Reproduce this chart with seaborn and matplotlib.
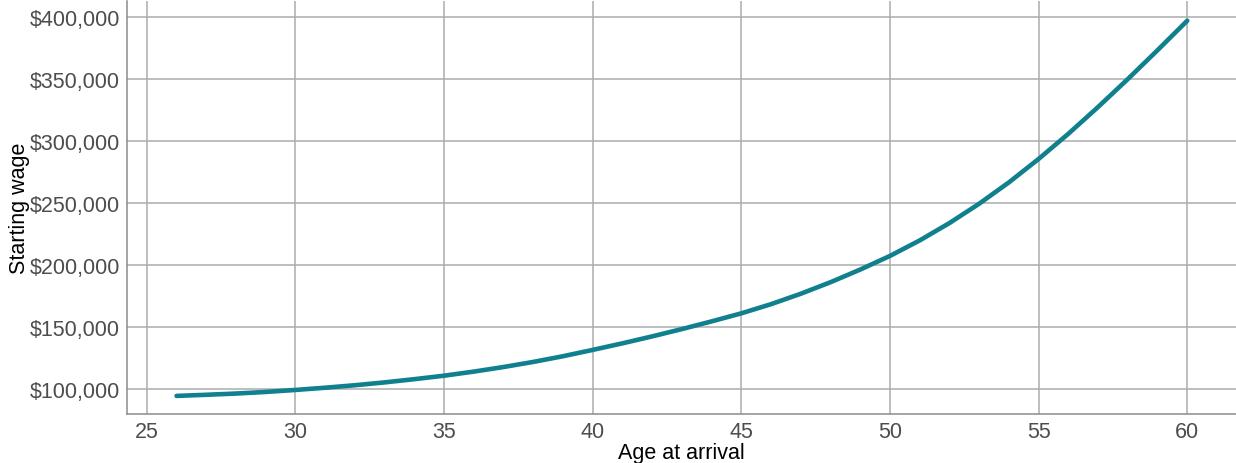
import matplotlib
matplotlib.use("Agg")
import matplotlib.pyplot as plt
import matplotlib.ticker as mticker
import pandas as pd
import seaborn as sns

# values
ages = list(range(26, 61))
wages = [
    94400, 95300, 96300, 97600, 99200, 101000, 103000, 105300, 107900, 110700,
    114000, 117700, 121800, 126400, 131500, 136800, 142400, 148300, 154500, 161000,
    168400, 176800, 186100, 196300, 207300, 219800, 233800, 249400, 266600, 285500,
    305800, 327400, 349900, 373200, 397000,
]
x_ticks = [25, 30, 35, 40, 45, 50, 55, 60]
y_ticks = [100000, 150000, 200000, 250000, 300000, 350000, 400000]

df = pd.DataFrame({"age": ages, "wage": wages})

sns.set_style("whitegrid")
plt.rcParams["font.family"] = ["Liberation Sans", "DejaVu Sans"]

fig = plt.figure(figsize=(12.36, 4.64), dpi=100)
ax = fig.add_axes([0.1027, 0.1056, 0.8973, 0.8901])

sns.lineplot(data=df, x="age", y="wage", color="#10808f", linewidth=3.3, ax=ax)
for ln in ax.lines:
    ln.set_solid_joinstyle("round")
    ln.set_solid_capstyle("round")

ax.set_xlim(24.33, 61.64)
ax.set_ylim(79800, 412900)
ax.set_xticks(x_ticks)
ax.set_yticks(y_ticks)
ax.yaxis.set_major_formatter(mticker.FuncFormatter(lambda v, p: f"${v:,.0f}"))

ax.grid(True, color="#acacac", linewidth=1.1)
for side in ["top", "right"]:
    ax.spines[side].set_visible(False)
for side in ["left", "bottom"]:
    ax.spines[side].set_color("#8c8c8c")
    ax.spines[side].set_linewidth(1.1)

ax.tick_params(axis="both", length=0, labelsize=15.5, labelcolor="#4d4d4d")
ax.tick_params(axis="y", pad=5)
ax.tick_params(axis="x", pad=5)

ax.set_xlabel("Age at arrival", fontsize=15.5, color="black", labelpad=0)
ax.set_ylabel("Starting wage", fontsize=15.5, color="black", labelpad=0)

fig.savefig("out.png", dpi=100)
